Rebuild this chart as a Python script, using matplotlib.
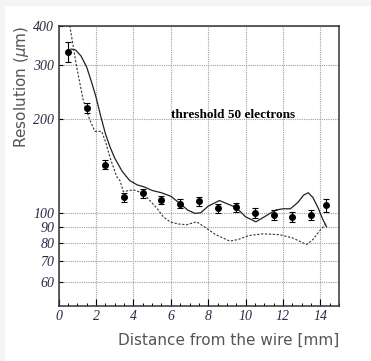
import matplotlib
matplotlib.use("Agg")
import matplotlib.pyplot as plt
from matplotlib.patches import Rectangle
from matplotlib.ticker import FixedLocator, NullFormatter, MultipleLocator

# measured points
dist = [0.5, 1.5, 2.5, 3.5, 4.5, 5.5, 6.5, 7.5, 8.5, 9.5, 10.5, 11.5, 12.5, 13.5, 14.3]
resol = [330, 218, 143, 112, 115.6, 110, 107, 109, 103.5, 104, 100, 98.5, 96.8, 98.5, 105.6]
resol_err = [24, 8, 5, 4, 4, 3.5, 3.5, 3.5, 3.5, 3.5, 3.5, 3.5, 3.5, 3.5, 5]

# simulation, solid line
sim_x = [0.66, 0.9, 1.2, 1.5, 1.75, 2.0, 2.25, 2.5, 2.75, 3.0, 3.4, 3.8, 4.2, 4.6,
         5.0, 5.5, 6.0, 6.5, 6.9, 7.3, 7.6, 8.0, 8.6, 9.0, 9.5, 10.0, 10.55, 11.0,
         11.6, 12.0, 12.4, 12.8, 13.1, 13.35, 13.6, 13.9, 14.1, 14.33]
sim_y = [337, 335, 320, 295, 265, 236, 205, 180, 163, 150, 136, 127, 123, 121,
         118, 116, 113, 107, 102, 99.5, 100, 105, 109.5, 107, 104, 97, 93.5, 97,
         102, 103, 103, 108, 114, 116, 112, 103, 96, 90]

# simulation, dashed line
sim2_x = [0.5, 0.6, 0.96, 1.32, 1.67, 1.94, 2.3, 2.5, 2.76, 3.1, 3.28, 3.46, 3.99,
          4.52, 5.24, 5.6, 5.96, 6.4, 6.85, 7.38, 7.8, 8.4, 9.16, 9.6, 10.2, 10.94,
          11.8, 12.5, 13.26, 13.6, 14.0, 14.33]
sim2_y = [450, 400, 296, 230, 199, 183, 183, 170, 150, 131, 127, 117, 118.6,
          115.6, 103.7, 97, 93.5, 92, 91.5, 93.5, 90, 85, 81, 82, 84.5, 85.5,
          85, 83, 79, 82, 88, 92.5]

yticks = [60, 70, 80, 90, 100, 200, 300, 400]
xticks = [0, 2, 4, 6, 8, 10, 12, 14]

fig = plt.figure(figsize=(3.71, 3.61), dpi=100)
fig.patches.append(Rectangle((0, 0), 4 / 371, 1, transform=fig.transFigure,
                             color="#f4f4f4", zorder=0))
fig.patches.append(Rectangle((0, 1 - 5 / 361), 1, 5 / 361, transform=fig.transFigure,
                             color="#f4f4f4", zorder=0))

ax = fig.add_axes([0.158, 0.152, 0.756, 0.776])
ax.set_yscale("log")
ax.set_xlim(0, 15)
ax.set_ylim(50, 400)

ax.plot(sim_x, sim_y, color="#222222", lw=0.9)
ax.plot(sim2_x, sim2_y, color="#333333", lw=0.8, ls=(0, (2, 1.5)))
ax.errorbar(dist, resol, yerr=resol_err, fmt="o", color="black", ms=4,
            elinewidth=0.8, capsize=2.5, capthick=0.8)

ax.text(6.0, 206, "threshold 50 electrons", family="Liberation Serif",
        fontweight="bold", fontsize=9.5, va="center", ha="left")

ax.xaxis.set_major_locator(FixedLocator(xticks))
ax.xaxis.set_minor_locator(MultipleLocator(0.5))
ax.set_xticklabels([str(t) for t in xticks])
ax.yaxis.set_major_locator(FixedLocator(yticks))
ax.yaxis.set_minor_locator(FixedLocator([]))
ax.yaxis.set_minor_formatter(NullFormatter())
ax.set_yticklabels([str(t) for t in yticks])

for lab in ax.get_xticklabels() + ax.get_yticklabels():
    lab.set_family("Liberation Serif")
    lab.set_style("italic")
    lab.set_fontsize(10)
    lab.set_color("#2a2a45")

ax.tick_params(which="major", direction="in", length=5, width=0.8, pad=3)
ax.tick_params(which="minor", direction="in", length=2.5, width=0.7)
ax.tick_params(axis="y", which="major", length=3)

ax.grid(True, which="major", color="#a0a0a0", ls=(0, (1, 1)), lw=0.8)
for s in ax.spines.values():
    s.set_color("#333333")
    s.set_linewidth(1.1)

ax.set_xlabel("Distance from the wire [mm]", fontsize=11, color="#555555",
              ha="right", x=1.0, labelpad=7)
ax.set_ylabel("Resolution ($\\mu$m)", fontsize=11, color="#555555",
              ha="right", y=1.0, labelpad=2)

fig.savefig("out.png", dpi=100)
